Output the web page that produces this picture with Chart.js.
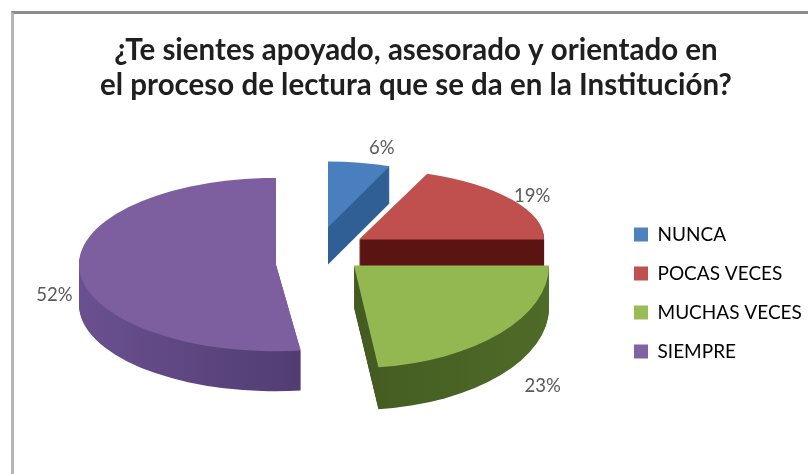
<!DOCTYPE html>
<html>
<head>
<meta charset="utf-8">
<title>Apoyo en el proceso de lectura</title>
<style>
  html, body { margin: 0; padding: 0; background: #fff; }
  #wrap { position: relative; width: 808px; height: 474px; overflow: hidden; }
  #frame { position: absolute; left: 11px; top: 11px; right: -4px; bottom: -4px; border: 3px solid #b5b5b5; border-top-color: #8c8c8c; }
  canvas { position: absolute; left: 0; top: 0; filter: blur(0.6px); }
</style>
<script src="https://cdn.jsdelivr.net/npm/chart.js@4/dist/chart.umd.min.js"></script>
</head>
<body>
<div id="wrap">
  <div id="frame"></div>
  <canvas id="chart" width="808" height="474"></canvas>
</div>
<script>
(function () {
  'use strict';

  var categories = ['NUNCA', 'POCAS VECES', 'MUCHAS VECES', 'SIEMPRE'];
  var percents = [6, 19, 23, 52];
  var titleLines = [
    '¿Te sientes apoyado, asesorado y orientado en',
    'el proceso de lectura que se da en la Institución?'
  ];

  var topColors = ['#4a7fbd', '#c0504d', '#94b851', '#7d5fa0'];
  var legendColors = ['#4f81bd', '#c0504d', '#9bbb59', '#8064a2'];
  // side wall gradient, left to right
  var wallColors = [
    ['#2f5f95', '#2f5f95'],
    ['#5a1512', '#5a1512'],
    ['#384b1b', '#4f6b28'],
    ['#6a5090', '#3f2e5c']
  ];

  // how each exploded slice sits in the fake 3D view (Excel draws it with perspective)
  var sliceView = [
    { dx: 6, dy: -38, sx: 0.85, sy: 0.335, depth: 37 },
    { dx: 37, dy: -26, sx: 0.94, sy: 0.36, depth: 30 },
    { dx: 32, dy: 0, sx: 0.99, sy: 0.52, depth: 42 },
    { dx: -46, dy: -1, sx: 1, sy: 0.44, depth: 40 }
  ];
  var labelNudge = [
    { x: 19, y: -8 },
    { x: 3, y: 1 },
    { x: 26, y: 45 },
    { x: -3, y: 24 }
  ];

  function enterSlice(ctx, arc, view) {
    ctx.translate(arc.x + view.dx, arc.y + view.dy);
    ctx.scale(view.sx, view.sy);
    ctx.translate(-arc.x, -arc.y);
  }

  function drawWall(ctx, arc, view, colors) {
    var gradient = ctx.createLinearGradient(arc.x + view.dx - 197, 0, arc.x + view.dx + 197, 0);
    gradient.addColorStop(0, colors[0]);
    gradient.addColorStop(1, colors[1]);
    ctx.fillStyle = gradient;
    for (var d = view.depth; d > 0; d--) {
      ctx.save();
      ctx.beginPath();
      ctx.translate(arc.x + view.dx, arc.y + view.dy + d);
      ctx.scale(view.sx, view.sy);
      ctx.moveTo(0, 0);
      ctx.arc(0, 0, arc.outerRadius, arc.startAngle, arc.endAngle);
      ctx.closePath();
      ctx.restore();
      ctx.fill();
    }
  }

  var pie3d = {
    id: 'pie3d',
    afterLayout: function (chart) {
      // legend hangs lower than the pie in the reference
      chart.legend.top += 80;
      chart.legend.bottom += 80;
    },
    beforeDatasetDraw: function (chart, args) {
      var ctx = chart.ctx;
      var arcs = chart.getDatasetMeta(args.index).data;
      arcs.forEach(function (arc, i) {
        drawWall(ctx, arc, sliceView[i], wallColors[i]);
      });
      arcs.forEach(function (arc, i) {
        ctx.save();
        enterSlice(ctx, arc, sliceView[i]);
        arc.draw(ctx);
        ctx.restore();
      });
      return false;
    },
    afterDatasetsDraw: function (chart) {
      var ctx = chart.ctx;
      var arcs = chart.getDatasetMeta(0).data;
      ctx.save();
      ctx.font = '18.5px Lato';
      ctx.fillStyle = '#595959';
      ctx.textAlign = 'center';
      ctx.textBaseline = 'middle';
      arcs.forEach(function (arc, i) {
        var view = sliceView[i];
        var mid = (arc.startAngle + arc.endAngle) / 2;
        var r = arc.outerRadius + 22;
        var x = arc.x + view.dx + Math.cos(mid) * r * view.sx + labelNudge[i].x;
        var y = arc.y + view.dy + Math.sin(mid) * r * view.sy + labelNudge[i].y;
        ctx.fillText(percents[i] + '%', x, y);
      });
      ctx.restore();
    }
  };

  Chart.register(pie3d);

  new Chart(document.getElementById('chart'), {
    type: 'pie',
    data: {
      labels: categories,
      datasets: [{
        data: percents,
        backgroundColor: topColors,
        borderWidth: 0
      }]
    },
    options: {
      responsive: false,
      animation: false,
      radius: 197,
      layout: { padding: { left: 30, right: 6, top: 8, bottom: 56 } },
      plugins: {
        tooltip: { enabled: false },
        title: {
          display: true,
          text: titleLines,
          color: '#1f1f1f',
          font: { family: 'Lato', size: 29.5, weight: 'bold', lineHeight: 1.19 },
          padding: { top: 25, bottom: 10 }
        },
        legend: {
          position: 'right',
          maxWidth: 188,
          labels: {
            color: '#595959',
            font: { family: 'Lato', size: 19 },
            boxWidth: 14,
            boxHeight: 14,
            padding: 20,
            generateLabels: function (chart) {
              return categories.map(function (name, i) {
                return {
                  text: name,
                  fillStyle: legendColors[i],
                  strokeStyle: legendColors[i],
                  lineWidth: 0,
                  index: i
                };
              });
            }
          }
        }
      }
    }
  });
})();
</script>
</body>
</html>
